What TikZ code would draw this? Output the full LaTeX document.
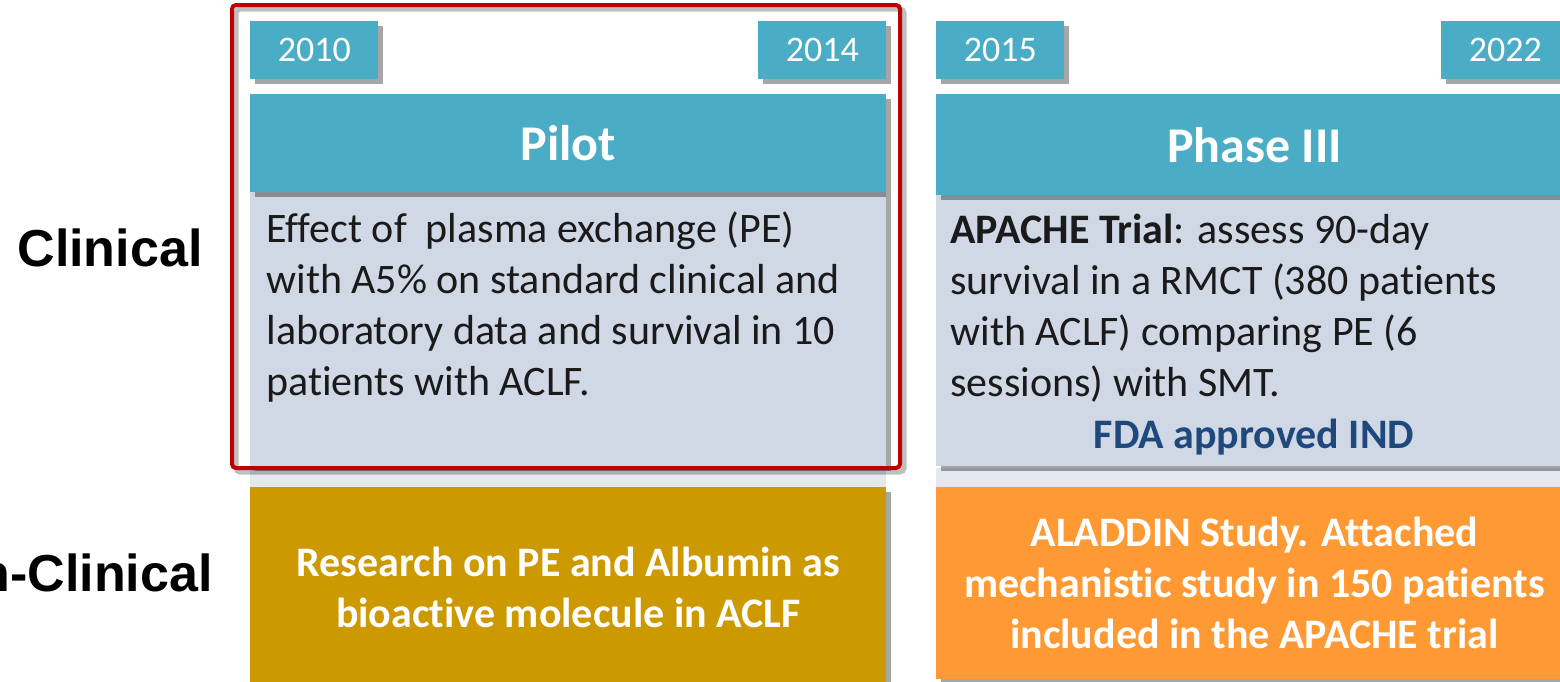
\documentclass[tikz,border=0pt]{standalone}
\usepackage{fontspec}
\setmainfont{Carlito}[Ligatures=NoCommon]
\newfontfamily\labelfont{Liberation Sans}
\usetikzlibrary{shadows,calc}
\definecolor{hdrteal}{HTML}{4BACC6}
\definecolor{bodygray}{HTML}{D0D7E5}
\definecolor{framered}{HTML}{C00000}
\definecolor{goldbox}{HTML}{CC9900}
\definecolor{orangebox}{HTML}{FF9933}
\definecolor{fdablue}{HTML}{1F497D}
\definecolor{textdark}{HTML}{1A1A1A}
\definecolor{stripgray}{HTML}{E4E8F1}
\tikzset{
  shad/.style={drop shadow={shadow xshift=2.5pt, shadow yshift=-2.5pt, fill=black, opacity=0.35}},
  yearbox/.style={shad, fill=hdrteal, text=white, font=\fontsize{18}{21}\selectfont,
    minimum width=64pt, minimum height=29pt, inner sep=0pt, anchor=north west},
  headbox/.style={shad, fill=hdrteal, text=white, font=\bfseries\fontsize{25}{30}\selectfont,
    minimum width=318pt, inner sep=0pt, anchor=north west},
  bodybox/.style={shad, fill=bodygray, minimum width=318pt, inner sep=0pt, anchor=north west},
  bodytext/.style={text=textdark, font=\fontsize{21}{25.5}\selectfont, align=left, inner sep=0pt, anchor=north west},
  colorbox/.style={shad, text=white, font=\bfseries\fontsize{21}{25.5}\selectfont, align=center,
    minimum width=318pt, inner sep=0pt, anchor=north west},
  sidelabel/.style={font=\labelfont\bfseries\fontsize{26}{30}\selectfont, text=black, inner sep=0pt},
  strip/.style={fill=stripgray, draw=none},
  redframe/.style={draw=framered, line width=2pt, rounded corners=2pt},
  frameshadow/.style={draw=black, opacity=0.25, line width=2.5pt, rounded corners=2pt}
}
\begin{document}
\begin{tikzpicture}[x=0.5pt,y=-0.5pt]
\useasboundingbox (0,0) rectangle (1560,681);
\fill[white] (0,0) rectangle (1560,681);

% light strips under body boxes
\fill[strip] (250,468) rectangle (886,487);
\fill[strip] (936,468) rectangle (1572,487);

% bottom row
\node[colorbox, fill=goldbox, minimum height=100pt] (gold) at (250,487) {Research on PE and Albumin as\\bioactive molecule in ACLF};
\node[colorbox, fill=orangebox, minimum height=96pt] (orange) at (936,487) {ALADDIN Study. Attached\\mechanistic study in 150 patients\\included in the APACHE trial};

% Pilot column
\node[bodybox, minimum height=137pt] (pbody) at (250,192) {};
\node[headbox, minimum height=49pt] (phead) at (250,94) {Pilot};
\node[bodytext] (ptext) at (266,211) {Effect of~ plasma exchange (PE)\\with A5\% on standard clinical and\\laboratory data and survival in 10\\patients with ACLF.};

% Phase III column
\node[bodybox, minimum height=135.5pt] (qbody) at (936,195) {};
\node[headbox, minimum height=50.5pt] (qhead) at (936,94) {Phase III};
\node[bodytext] (qtext) at (950,214) {\textbf{APACHE Trial}: assess 90-day\\survival in a RMCT (380 patients\\with ACLF) comparing PE (6\\sessions) with SMT.};
\node[text=fdablue, font=\bfseries\fontsize{21}{25.5}\selectfont, inner sep=0pt] (fda) at (1254,437) {FDA approved IND};

% year boxes
\node[yearbox] (y2010) at (250,21) {2010};
\node[yearbox] (y2014) at (758,21) {2014};
\node[yearbox] (y2015) at (936,21) {2015};
\node[yearbox] (y2022) at (1441,21) {2022};

% red frame with soft shadow
\draw[frameshadow] (236,9) rectangle (904,472);
\draw[redframe] (232,5) rectangle (900,468);

% side labels
\node[sidelabel] (lclin) at (110,248) {Clinical};
\node[sidelabel, anchor=east] (lnon) at (213,573) {n-Clinical};
\end{tikzpicture}
\end{document}
